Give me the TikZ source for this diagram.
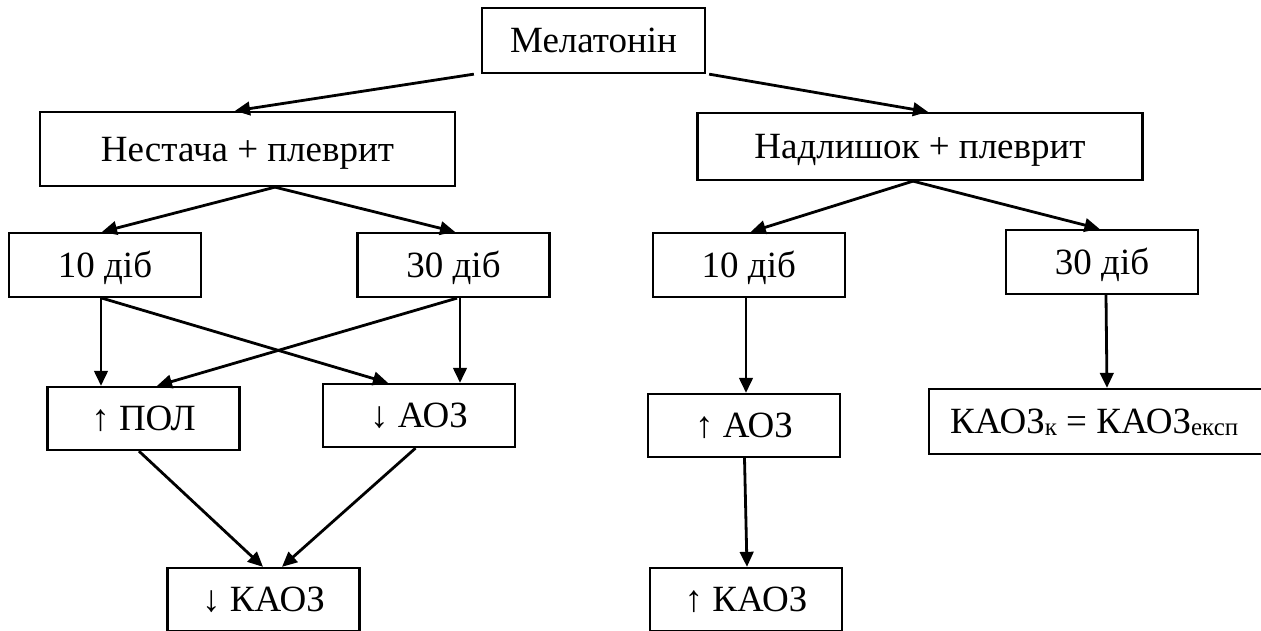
\documentclass[tikz,border=0pt]{standalone}
\usepackage{fontspec}
\setmainfont{Liberation Serif}
\usetikzlibrary{arrows.meta}
\begin{document}
\begin{tikzpicture}[x=1pt,y=-1pt,
  box/.style={draw, line width=2.3pt, inner sep=0pt, font=\fontsize{37}{44}\selectfont,
    text height=24.5pt, text depth=0pt, minimum width=192pt, minimum height=64pt},
  arr/.style={line width=2.8pt, -{Triangle[length=15pt,width=13.5pt]}}]
\useasboundingbox (0,0) rectangle (1261,631);
\newcommand{\subt}[1]{\raisebox{-2pt}{\fontsize{25}{25}\selectfont #1}}
% boxes
\node[box, minimum width=223pt, minimum height=65pt] (mel) at (593.5,40.5) {Мелатонін};
\node[box, minimum width=415pt, minimum height=74pt] (nes) at (247.5,149) {Нестача + плеврит};
\node[box, minimum width=445pt, minimum height=67pt] (nad) at (920,146.5) {Надлишок + плеврит};
\node[box] (t10L) at (105,265) {10 діб};
\node[box] (t30L) at (453.5,265) {30 діб};
\node[box] (t10R) at (748.75,265) {10 діб};
\node[box] (t30R) at (1102,262) {30 діб};
\node[box, minimum height=63pt] (pol) at (143.5,418.5) {↑ ПОЛ};
\node[box, minimum height=63pt] (aozD) at (419,415.5) {↓ АОЗ};
\node[box, minimum height=63pt] (aozU) at (744,425.5) {↑ АОЗ};
\node[box, minimum width=334pt, minimum height=65pt] (kk) at (1096,421.5)
  {\makebox[292pt][l]{КАОЗ\subt{к} = КАОЗ\subt{експ}}};
\node[box, minimum height=63pt] (kaozD) at (263.5,599.5) {↓ КАОЗ};
\node[box, minimum height=63pt] (kaozU) at (746,599.5) {↑ КАОЗ};
% connectors
\draw[arr] ([xshift=-7pt]mel.south west) -- ([xshift=-12.5pt]nes.north);
\draw[arr] ([xshift=3pt]mel.south east) -- ([xshift=8pt]nad.north);
\draw[arr] ([xshift=27.5pt]nes.south) -- ([xshift=-3pt]t10L.north);
\draw[arr] ([xshift=27.5pt]nes.south) -- ([xshift=1.5pt]t30L.north);
\draw[arr] ([xshift=-7pt]nad.south) -- ([xshift=2pt]t10R.north);
\draw[arr] ([xshift=-7pt]nad.south) -- ([xshift=-2.5pt]t30R.north);
\coordinate (s10L) at ([xshift=-4pt]t10L.south);
\coordinate (s30L) at ([xshift=6.5pt]t30L.south);
\coordinate (s10R) at ([xshift=-2.75pt]t10R.south);
\draw[arr] (s10L) -- (s10L |- pol.north);
\draw[arr] ([xshift=-3pt]t10L.south) -- ([xshift=-31pt]aozD.north);
\draw[arr] ([xshift=3.5pt]t30L.south) -- ([xshift=13.5pt]pol.north);
\draw[arr] (s30L) -- (s30L |- aozD.north);
\draw[arr] ([xshift=-4.5pt]pol.south) -- ([xshift=-0.5pt]kaozD.north);
\draw[arr] ([xshift=-3.5pt]aozD.south) -- ([xshift=18.5pt]kaozD.north);
\draw[arr] (s10R) -- (s10R |- aozU.north);
\draw[arr] ([xshift=0.5pt]aozU.south) -- ([xshift=1pt]kaozU.north);
\draw[arr] ([xshift=4pt]t30R.south) -- ([xshift=11pt]kk.north);
\end{tikzpicture}
\end{document}
